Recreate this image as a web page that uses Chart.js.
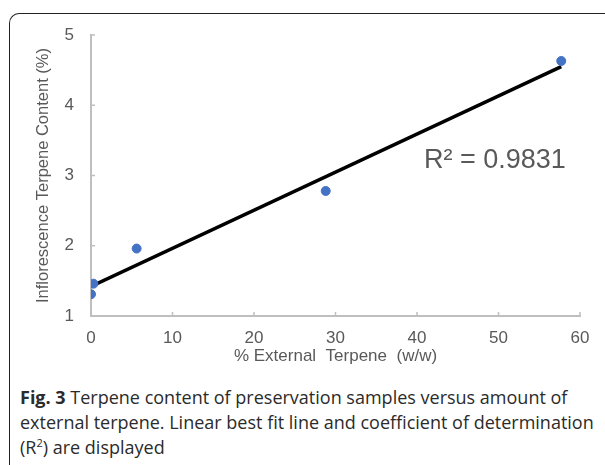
<!DOCTYPE html>
<html>
<head>
<meta charset="utf-8">
<script src="https://cdn.jsdelivr.net/npm/chart.js@4.4.0/dist/chart.umd.min.js"></script>
<style>
  body { margin: 0; width: 605px; height: 465px; background: #fff; overflow: hidden; position: relative; }
  #frame { position: absolute; left: 9px; top: 13px; width: 700px; height: 600px;
           border-top: 1.5px solid #222; border-left: 1.5px solid #222; border-top-left-radius: 10px; }
  #wrap { position: absolute; left: 0; top: 0; width: 605px; height: 375px; }
  #r2 { position: absolute; left: 424px; top: 144px; font: 27px "Liberation Sans", Arial, sans-serif; color: #595959; }
  #caption { position: absolute; left: 20px; top: 385px; width: 580px; font: 18px "Open Sans", sans-serif;
             color: #2b2b2b; line-height: 25px; }
</style>
</head>
<body>
<div id="frame"></div>
<div id="wrap"><canvas id="scatterChart"></canvas></div>
<div id="r2">R² = 0.9831</div>
<div id="caption"><b>Fig. 3</b> Terpene content of preservation samples versus amount of external terpene. Linear best fit line and coefficient of determination (R<sup style="font-size:11px;line-height:0">2</sup>) are displayed</div>
<script>
// measured samples
const externalTerpene = [0, 0.3, 5.6, 28.8, 57.7];
const inflorescenceTerpene = [1.31, 1.46, 1.96, 2.78, 4.63];
// best fit line end points as drawn
const fitX = [0, 57.7];
const fitY = [1.42, 4.55];
const xTicks = [0, 10, 20, 30, 40, 50, 60];
const yTicks = [1, 2, 3, 4, 5];

const axisGray = '#bfbfbf';
const textGray = '#595959';

// small tick marks drawn inside the plot, like the original
const innerTicks = {
    id: 'innerTicks',
    afterDatasetsDraw(chart) {
        const ctx = chart.ctx;
        const x = chart.scales.x, y = chart.scales.y;
        ctx.save();
        ctx.strokeStyle = axisGray;
        ctx.lineWidth = 1.5;
        ctx.beginPath();
        xTicks.forEach(v => {
            const px = x.getPixelForValue(v);
            ctx.moveTo(px, y.bottom);
            ctx.lineTo(px, y.bottom - 4);
        });
        yTicks.forEach(v => {
            const py = y.getPixelForValue(v);
            ctx.moveTo(x.left, py);
            ctx.lineTo(x.left + 4, py);
        });
        ctx.stroke();
        ctx.restore();
    }
};

function createChart() {
    const ctx = document.getElementById('scatterChart').getContext('2d');
    new Chart(ctx, {
        type: 'scatter',
        data: {
            datasets: [{
                label: 'Samples',
                data: externalTerpene.map((v, i) => ({ x: v, y: inflorescenceTerpene[i] })),
                backgroundColor: '#4472c4',
                borderColor: '#4472c4',
                pointRadius: 4.5,
                order: 1
            }, {
                label: 'Linear fit',
                type: 'line',
                data: fitX.map((v, i) => ({ x: v, y: fitY[i] })),
                borderColor: '#000',
                borderWidth: 3.5,
                pointRadius: 0,
                fill: false,
                order: 2
            }]
        },
        options: {
            responsive: true,
            maintainAspectRatio: false,
            animation: false,
            layout: { padding: { left: 0, right: 25, top: 35, bottom: 0 } },
            plugins: { legend: { display: false }, tooltip: { enabled: false } },
            scales: {
                x: {
                    type: 'linear',
                    min: 0,
                    max: 60,
                    afterFit: s => { s.height = 59; },
                    afterBuildTicks: s => { s.ticks = xTicks.map(v => ({ value: v })); },
                    grid: { display: false, drawTicks: false },
                    border: { color: axisGray, width: 2 },
                    ticks: { color: textGray, font: { family: 'Liberation Sans', size: 17 }, padding: 12 },
                    title: { display: true, text: '% External  Terpene  (w/w)', color: textGray,
                             font: { family: 'Liberation Sans', size: 17 }, padding: { top: 0, bottom: 8 } }
                },
                y: {
                    type: 'linear',
                    min: 1,
                    max: 5,
                    afterFit: s => { s.width = 91; },
                    afterBuildTicks: s => { s.ticks = yTicks.map(v => ({ value: v })); },
                    grid: { display: false, drawTicks: false },
                    border: { color: axisGray, width: 2 },
                    ticks: { color: textGray, font: { family: 'Liberation Sans', size: 17 }, padding: 17 },
                    title: { display: true, text: 'Inflorescence Terpene Content (%)', color: textGray,
                             font: { family: 'Liberation Sans', size: 16.5 }, padding: { top: 34 } }
                }
            }
        },
        plugins: [innerTicks]
    });
}

createChart();
</script>
</body>
</html>
